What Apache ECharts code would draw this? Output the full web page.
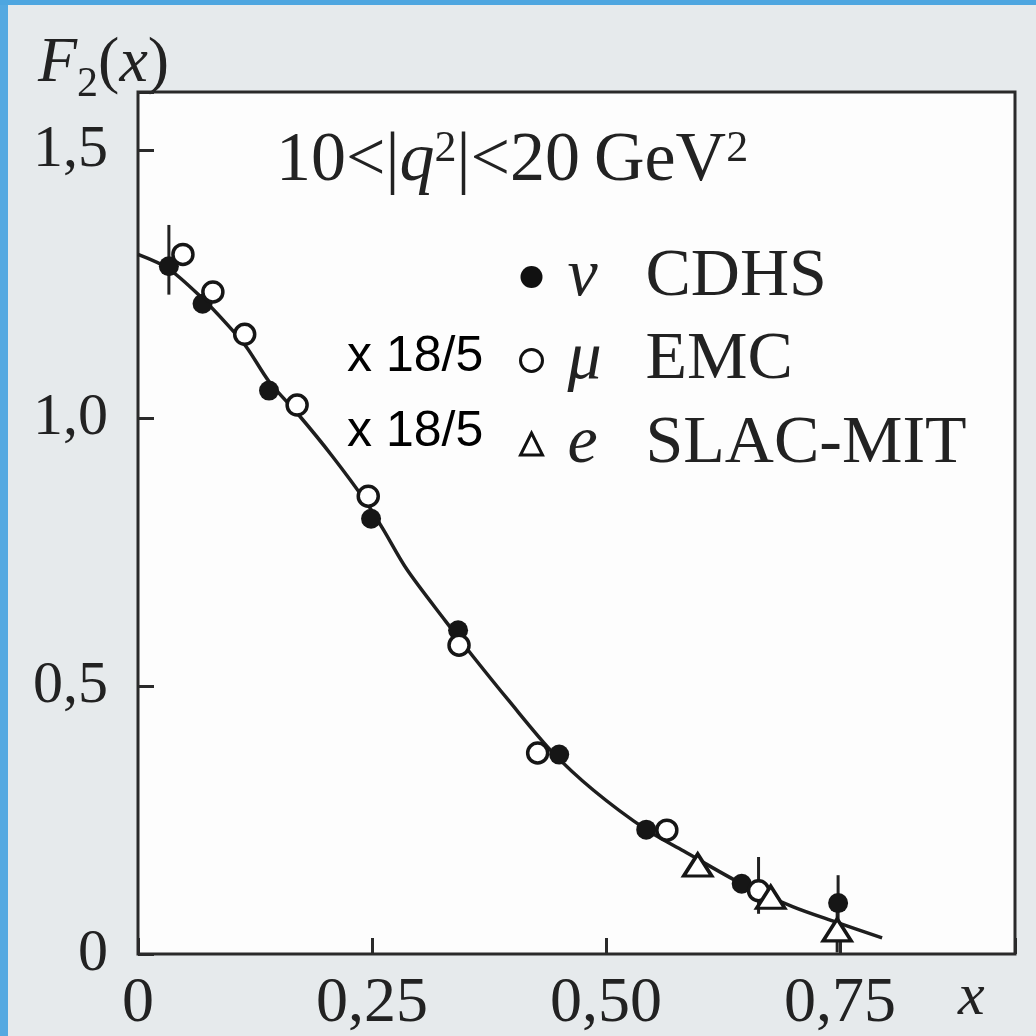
<!DOCTYPE html>
<html>
<head>
<meta charset="utf-8">
<script src="https://cdn.jsdelivr.net/npm/echarts@6/dist/echarts.min.js"></script>
<style>
  html, body { margin: 0; padding: 0; }
  #chart { width: 1036px; height: 1036px; }
</style>
</head>
<body>
<div id="chart"></div>
<script>
// fitted curve
const curveX = [0, 0.032, 0.067, 0.095, 0.116, 0.14, 0.172, 0.207, 0.243, 0.262, 0.287, 0.329, 0.358, 0.396, 0.442, 0.487, 0.543, 0.583, 0.645, 0.70, 0.745, 0.795];
const curveF = [1.305, 1.279, 1.226, 1.175, 1.132, 1.068, 1.005, 0.93, 0.845, 0.792, 0.718, 0.62, 0.555, 0.473, 0.378, 0.305, 0.232, 0.192, 0.131, 0.088, 0.060, 0.030];

// nu CDHS (filled circles)
const cdhsX = [0.033, 0.069, 0.140, 0.249, 0.342, 0.450, 0.543, 0.645, 0.748];
const cdhsF = [1.283, 1.213, 1.051, 0.812, 0.604, 0.372, 0.232, 0.131, 0.095];

// mu EMC x 18/5 (open circles)
const emcX = [0.048, 0.080, 0.114, 0.170, 0.246, 0.343, 0.427, 0.565, 0.663];
const emcF = [1.305, 1.235, 1.156, 1.024, 0.854, 0.576, 0.375, 0.231, 0.118];

// e SLAC-MIT x 18/5 (open triangles)
const slacX = [0.598, 0.676, 0.747];
const slacF = [0.166, 0.106, 0.045];

// error bars
const errX  = [0.033, 0.663, 0.748, 0.747];
const errLo = [1.23, 0.075, 0.045, 0.003];
const errHi = [1.36, 0.181, 0.147, 0.09];

const xTicks = [0, 0.25, 0.5, 0.75];
const xTickLabels = ['0', '0,25', '0,50', '0,75'];
const yTicks = [0, 0.5, 1.0, 1.5];
const yTickLabels = ['0', '0,5', '1,0', '1,5'];

const seriesNames = ['CDHS', 'EMC', 'SLAC-MIT'];
const seriesGreek = ['\u03bd', '\u03bc', 'e'];

const serif = "'Liberation Serif', 'DejaVu Serif', serif";
const ink = '#222';

const pairs = (xs, ys) => xs.map((x, i) => [x, ys[i]]);
const tickLabel = (ticks, labels) => (v) => {
  const i = ticks.findIndex(t => Math.abs(t - v) < 1e-6);
  return i < 0 ? '' : labels[i];
};

const chart = echarts.init(document.getElementById('chart'));

const option = {
  backgroundColor: '#e6eaec',
  animation: false,
  graphic: [
    { type: 'rect', shape: { x: 0, y: 0, width: 8, height: 1036 }, style: { fill: '#55a9e1' } },
    { type: 'rect', shape: { x: 0, y: 0, width: 1036, height: 5 }, style: { fill: '#4ea6e0' } },
    {
      type: 'text', x: 38, y: 22,
      style: {
        text: '{i|F}{b|2}{n|(}{i|x}{n|)}',
        rich: {
          i: { fontFamily: serif, fontStyle: 'italic', fontSize: 64, lineHeight: 84, fill: ink },
          n: { fontFamily: serif, fontSize: 64, lineHeight: 84, fill: ink },
          b: { fontFamily: serif, fontSize: 42, lineHeight: 42, verticalAlign: 'bottom', fill: ink }
        }
      }
    },
    {
      type: 'text', x: 958, y: 968,
      style: { text: 'x', fontFamily: serif, fontStyle: 'italic', fontSize: 60, fill: ink }
    },
    {
      type: 'text', x: 347, y: 357,
      style: { text: 'x 18/5', fontFamily: "'Liberation Sans', Arial, sans-serif", fontSize: 50, fill: '#000', verticalAlign: 'middle' }
    },
    {
      type: 'text', x: 347, y: 432,
      style: { text: 'x 18/5', fontFamily: "'Liberation Sans', Arial, sans-serif", fontSize: 50, fill: '#000', verticalAlign: 'middle' }
    }
  ],
  title: {
    text: '{n|10<|}{i|q}{s|2}{n||<20\u2009GeV}{s|2}',
    left: 271,
    top: 122,
    textStyle: {
      fontWeight: 'normal',
      rich: {
        n: { fontFamily: serif, fontWeight: 'normal', fontSize: 70, lineHeight: 70, color: ink },
        i: { fontFamily: serif, fontWeight: 'normal', fontStyle: 'italic', fontSize: 70, lineHeight: 70, color: ink },
        s: { fontFamily: serif, fontWeight: 'normal', fontSize: 44, lineHeight: 44, verticalAlign: 'top', color: ink }
      }
    }
  },
  legend: {
    orient: 'vertical',
    left: 514,
    top: 238,
    itemWidth: 22,
    itemHeight: 22,
    itemGap: 15.5,
    selectedMode: false,
    data: [
      { name: seriesNames[0], icon: 'circle', itemStyle: { color: '#111', borderWidth: 0 } },
      { name: seriesNames[1], icon: 'circle', itemStyle: { color: '#fff', borderColor: '#111', borderWidth: 3 } },
      { name: seriesNames[2], icon: 'triangle', itemStyle: { color: '#fff', borderColor: '#111', borderWidth: 3 } }
    ],
    formatter: (name) => `{g|${seriesGreek[seriesNames.indexOf(name)]}}{n|${name}}`,
    textStyle: {
      rich: {
        g: { fontFamily: serif, fontStyle: 'italic', fontSize: 68, lineHeight: 62, color: ink, width: 58, padding: [0, 0, 0, 20] },
        n: { fontFamily: serif, fontSize: 68, lineHeight: 62, color: ink, padding: [0, 0, 0, 20] }
      }
    }
  },
  grid: {
    left: 138, right: 21, top: 92, bottom: 82,
    show: true,
    backgroundColor: '#fdfdfd',
    borderColor: '#2a2a2a',
    borderWidth: 3
  },
  xAxis: {
    type: 'value',
    min: 0, max: 0.937, interval: 0.25,
    axisLine: { show: false },
    splitLine: { show: false },
    axisTick: { inside: true, length: 16, lineStyle: { color: '#2a2a2a', width: 3 } },
    axisLabel: {
      margin: 18,
      fontFamily: serif, fontSize: 64, color: ink,
      formatter: tickLabel(xTicks, xTickLabels)
    }
  },
  yAxis: {
    type: 'value',
    min: 0, max: 1.608, interval: 0.5,
    axisLine: { show: false },
    splitLine: { show: false },
    axisTick: { inside: true, length: 16, lineStyle: { color: '#2a2a2a', width: 3 } },
    axisLabel: {
      margin: 30,
      fontFamily: serif, fontSize: 60, color: ink,
      formatter: tickLabel(yTicks, yTickLabels)
    }
  },
  series: [
    {
      name: 'fit',
      type: 'line',
      data: pairs(curveX, curveF),
      smooth: 0.3,
      showSymbol: false,
      lineStyle: { color: '#1e1e1e', width: 3.5 },
      z: 2
    },
    {
      name: 'errors',
      type: 'custom',
      data: errX.map((x, i) => [x, errLo[i], errHi[i]]),
      renderItem: (params, api) => {
        const p1 = api.coord([api.value(0), api.value(1)]);
        const p2 = api.coord([api.value(0), api.value(2)]);
        return {
          type: 'line',
          shape: { x1: p1[0], y1: p1[1], x2: p2[0], y2: p2[1] },
          style: { stroke: '#222', lineWidth: 3 }
        };
      },
      z: 3
    },
    {
      name: 'CDHS',
      type: 'scatter',
      data: pairs(cdhsX, cdhsF),
      symbol: 'circle',
      symbolSize: 20,
      itemStyle: { color: '#161616', opacity: 1 },
      z: 4
    },
    {
      name: 'EMC',
      type: 'scatter',
      data: pairs(emcX, emcF),
      symbol: 'circle',
      symbolSize: 20,
      itemStyle: { color: '#fff', borderColor: '#161616', borderWidth: 3.5, opacity: 1 },
      z: 5
    },
    {
      name: 'SLAC-MIT',
      type: 'scatter',
      data: pairs(slacX, slacF),
      symbol: 'triangle',
      symbolSize: [28, 22],
      itemStyle: { color: '#fff', borderColor: '#161616', borderWidth: 3.5, opacity: 1 },
      z: 5
    }
  ]
};

chart.setOption(option);
</script>
</body>
</html>
